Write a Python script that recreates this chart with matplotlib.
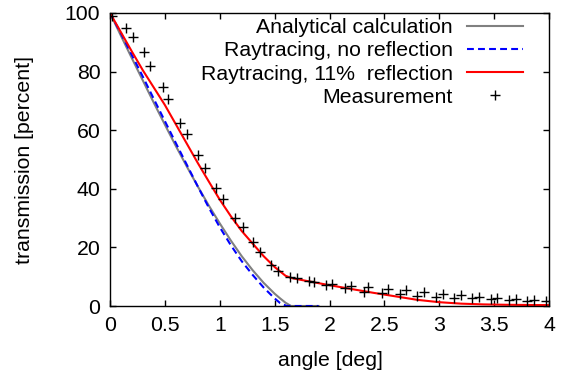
import matplotlib
matplotlib.use('Agg')
import matplotlib.pyplot as plt

# analytical calculation (grey)
ana_x = [0, 0.1, 0.2, 0.3, 0.4, 0.5, 0.6, 0.7, 0.8, 0.9, 1.0, 1.1, 1.2, 1.3, 1.4, 1.5, 1.55, 1.6, 1.65, 1.9]
ana_y = [100, 92.2, 84.5, 76.9, 69.3, 61.9, 54.6, 47.6, 40.8, 34.3, 28.2, 22.4, 17.0, 12.2, 7.9, 4.2, 2.6, 1.1, 0, 0]

# raytracing without reflection (blue dashed)
ray_x = [0, 0.1, 0.2, 0.3, 0.4, 0.5, 0.6, 0.7, 0.8, 0.9, 1.0, 1.1, 1.2, 1.3, 1.4, 1.5, 1.55, 1.61, 1.9]
ray_y = [100, 93.0, 85.6, 78.2, 70.6, 63.1, 55.6, 48.2, 40.8, 33.6, 26.9, 20.8, 15.3, 10.6, 6.3, 2.6, 1.0, 0, 0]

# raytracing with 11% reflection (red)
refl_x = [0, 0.1, 0.2, 0.3, 0.4, 0.5, 0.6, 0.7, 0.8, 0.9, 1.0, 1.1, 1.2, 1.3, 1.4, 1.5, 1.6, 1.65,
          1.7, 1.8, 1.9, 2.0, 2.2, 2.4, 2.6, 2.8, 3.0, 3.2, 3.4, 3.6, 3.8, 4.0]
refl_y = [100, 93.4, 86.8, 80.4, 74.5, 68.6, 62.0, 55.4, 48.8, 42.5, 36.3, 30.7, 25.6, 21.3, 17.0, 13.3, 10.3, 9.6,
          9.2, 8.5, 7.8, 7.1, 5.8, 4.5, 3.3, 2.1, 1.3, 0.8, 0.55, 0.42, 0.35, 0.3]

# measurement points
meas_x = [0.02, 0.15, 0.21, 0.31, 0.36, 0.48, 0.53, 0.64, 0.70, 0.80, 0.87, 0.97, 1.03, 1.14, 1.21, 1.30,
          1.37, 1.47, 1.53, 1.64, 1.70, 1.81, 1.86, 1.97, 2.02, 2.14, 2.20, 2.31, 2.35, 2.48, 2.53, 2.64,
          2.70, 2.80, 2.86, 2.97, 3.03, 3.13, 3.20, 3.30, 3.36, 3.47, 3.53, 3.64, 3.70, 3.80, 3.86, 3.97]
meas_y = [99.1, 95.0, 91.7, 86.8, 81.9, 74.8, 70.6, 62.3, 58.7, 51.5, 47.0, 40.2, 36.4, 29.9, 26.9, 21.7,
          18.3, 14.0, 11.9, 10.0, 9.4, 8.5, 8.3, 7.0, 7.6, 6.0, 6.9, 4.9, 6.4, 4.4, 5.9, 4.0,
          5.5, 3.5, 4.9, 3.2, 4.0, 2.8, 3.7, 2.6, 3.2, 2.4, 2.9, 2.0, 2.4, 1.8, 2.0, 1.7]

x_ticks = [0, 0.5, 1, 1.5, 2, 2.5, 3, 3.5, 4]
x_tick_labels = ['0', '0.5', '1', '1.5', '2', '2.5', '3', '3.5', '4']
y_ticks = [0, 20, 40, 60, 80, 100]

plt.rcParams['font.family'] = ['Liberation Sans', 'DejaVu Sans']
plt.rcParams['font.size'] = 15.3

fig = plt.figure(figsize=(5.69, 3.76), dpi=100)
ax = fig.add_axes([110 / 569, 70 / 376, 439 / 569, 293 / 376])

ax.plot(ana_x, ana_y, color='#808080', linewidth=1.5, label='Analytical calculation')
ax.plot(ray_x, ray_y, color='#0000ff', linewidth=1.5, dashes=(3.3, 2.0), label='Raytracing, no reflection')
ax.plot(refl_x, refl_y, color='#ff0000', linewidth=1.5, label='Raytracing, 11%  reflection')
ax.plot(meas_x, meas_y, linestyle='none', marker='+', markersize=7.5, markeredgewidth=1.0,
        color='black', label='Measurement')

ax.set_xlim(0, 4)
ax.set_ylim(0, 100)
ax.set_xticks(x_ticks)
ax.set_xticklabels(x_tick_labels)
ax.set_yticks(y_ticks)
ax.tick_params(direction='in', top=True, right=True, length=4, width=1.0, pad=7)
for sp in ax.spines.values():
    sp.set_linewidth(1.0)

fig.text(25 / 569, 1 - 160 / 376, 'transmission [percent]', rotation=90, ha='center', va='center')
fig.text(330 / 569, 1 - 361 / 376, 'angle [deg]', ha='center', va='center')

ax.legend(loc='upper right', bbox_to_anchor=(523 / 569, 1 - 18 / 376), bbox_transform=fig.transFigure,
          frameon=False, markerfirst=False, borderpad=0, borderaxespad=0,
          handlelength=2.65, handletextpad=0.65, labelspacing=0.2)

fig.savefig('out.png', dpi=100)
